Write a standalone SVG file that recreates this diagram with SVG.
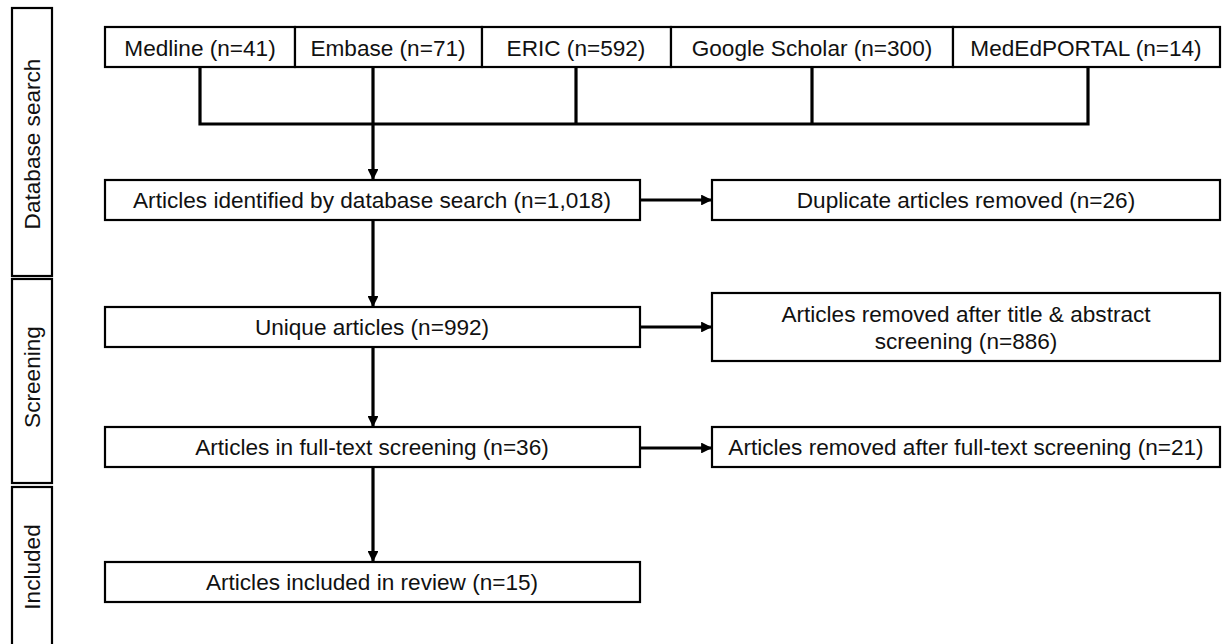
<svg xmlns="http://www.w3.org/2000/svg" width="1223" height="644" viewBox="0 0 1223 644">
  <style>
    .box { fill: #ffffff; stroke: #000000; stroke-width: 2.2; }
    .lane { fill: #ffffff; stroke: #000000; stroke-width: 2.2; }
    .txt { font-family: "Liberation Sans", Arial, sans-serif; font-size: 22.6px; fill: #111111; text-anchor: middle; }
    .wire { fill: none; stroke: #000000; stroke-width: 3.2; }
  </style>
  <defs>
    <marker id="arrow" viewBox="0 0 10 10" refX="10" refY="5" markerWidth="3.6" markerHeight="3.4" orient="auto" markerUnits="strokeWidth">
      <path d="M0,0 L10,5 L0,10 Z" fill="#000000"/>
    </marker>
  </defs>
  <rect width="1223" height="644" fill="#ffffff"/>

  <!-- stage lanes -->
  <g id="lane-database-search">
    <rect class="lane" x="12" y="8" width="40" height="268"/>
    <text class="txt" transform="translate(40,144) rotate(-90)">Database search</text>
  </g>
  <g id="lane-screening">
    <rect class="lane" x="12" y="279" width="40" height="204"/>
    <text class="txt" transform="translate(40,377) rotate(-90)">Screening</text>
  </g>
  <g id="lane-included">
    <rect class="lane" x="12" y="487" width="40" height="170"/>
    <text class="txt" transform="translate(40,567) rotate(-90)">Included</text>
  </g>

  <!-- connectors -->
  <g id="connectors">
    <path class="wire" d="M200,67 V124 H1088 V67"/>
    <path class="wire" d="M373,67 V124"/>
    <path class="wire" d="M576,67 V124"/>
    <path class="wire" d="M812,67 V124"/>
    <path class="wire" d="M373,124 V180" marker-end="url(#arrow)"/>
    <path class="wire" d="M640,200 H712" marker-end="url(#arrow)"/>
    <path class="wire" d="M373,220 V307" marker-end="url(#arrow)"/>
    <path class="wire" d="M640,327 H712" marker-end="url(#arrow)"/>
    <path class="wire" d="M373,347 V427" marker-end="url(#arrow)"/>
    <path class="wire" d="M640,448 H712" marker-end="url(#arrow)"/>
    <path class="wire" d="M373,467 V562" marker-end="url(#arrow)"/>
  </g>

  <!-- database sources -->
  <g id="medline">
    <rect class="box" x="105" y="27" width="190" height="40"/>
    <text class="txt" x="200" y="56">Medline (n=41)</text>
  </g>
  <g id="embase">
    <rect class="box" x="295" y="27" width="187" height="40"/>
    <text class="txt" x="388" y="56">Embase (n=71)</text>
  </g>
  <g id="eric">
    <rect class="box" x="482" y="27" width="189" height="40"/>
    <text class="txt" x="576" y="56">ERIC (n=592)</text>
  </g>
  <g id="google-scholar">
    <rect class="box" x="671" y="27" width="282" height="40"/>
    <text class="txt" x="812" y="56">Google Scholar (n=300)</text>
  </g>
  <g id="mededportal">
    <rect class="box" x="953" y="27" width="267" height="40"/>
    <text class="txt" x="1086" y="56">MedEdPORTAL (n=14)</text>
  </g>

  <!-- main flow -->
  <g id="identified">
    <rect class="box" x="105" y="180" width="535" height="40"/>
    <text class="txt" x="372" y="208">Articles identified by database search (n=1,018)</text>
  </g>
  <g id="duplicates">
    <rect class="box" x="712" y="180" width="508" height="40"/>
    <text class="txt" x="966" y="208">Duplicate articles removed (n=26)</text>
  </g>
  <g id="unique">
    <rect class="box" x="105" y="307" width="535" height="40"/>
    <text class="txt" x="372" y="335">Unique articles (n=992)</text>
  </g>
  <g id="removed-title-abstract">
    <rect class="box" x="712" y="293" width="508" height="68"/>
    <text class="txt" x="966" y="322">Articles removed after title &amp; abstract</text>
    <text class="txt" x="966" y="349">screening (n=886)</text>
  </g>
  <g id="full-text">
    <rect class="box" x="105" y="427" width="535" height="40"/>
    <text class="txt" x="372" y="455">Articles in full-text screening (n=36)</text>
  </g>
  <g id="removed-full-text">
    <rect class="box" x="712" y="427" width="508" height="40"/>
    <text class="txt" x="966" y="455">Articles removed after full-text screening (n=21)</text>
  </g>
  <g id="included">
    <rect class="box" x="105" y="562" width="535" height="40"/>
    <text class="txt" x="372" y="590">Articles included in review (n=15)</text>
  </g>
</svg>
